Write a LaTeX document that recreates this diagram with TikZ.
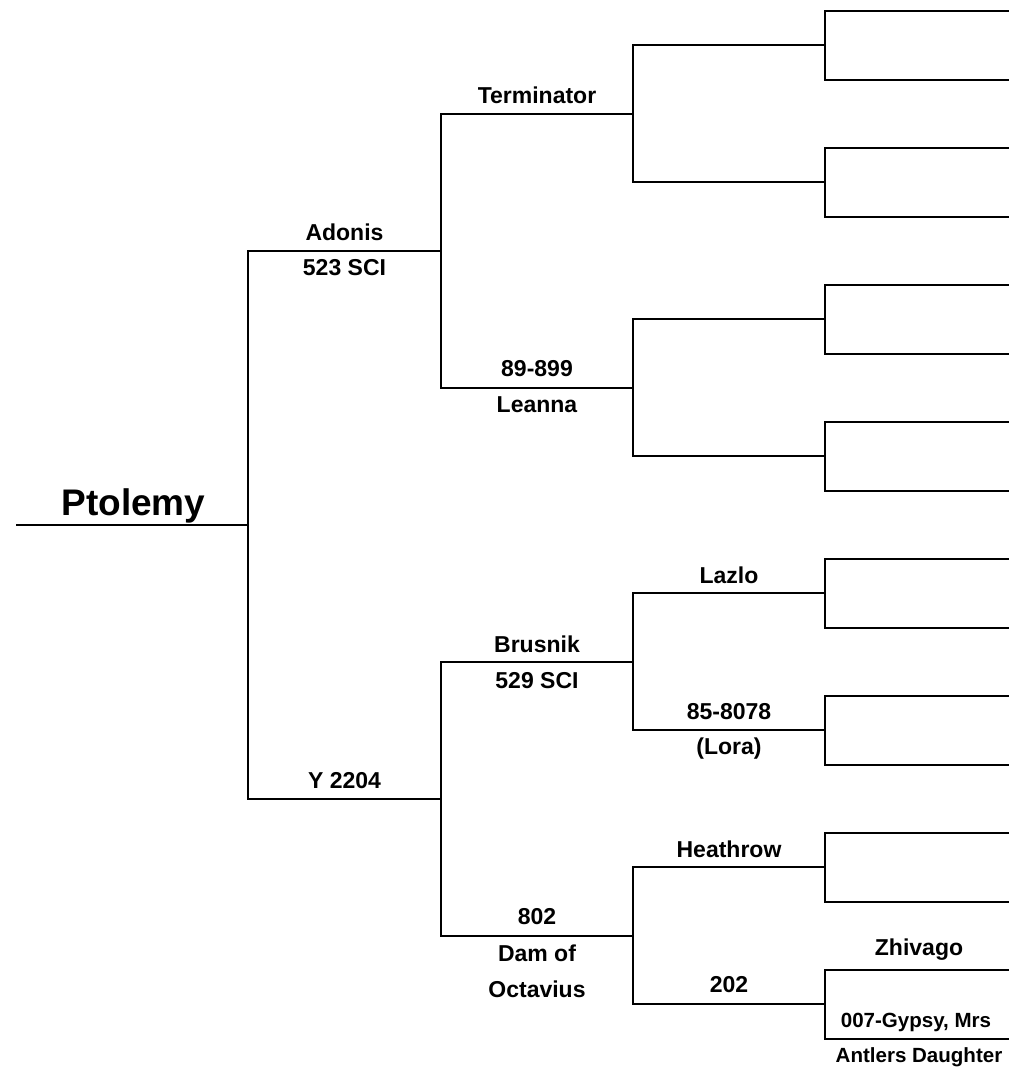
\documentclass[tikz,border=0pt]{standalone}
\usepackage{fontspec}
\setmainfont{Liberation Sans}
\begin{document}
\begin{tikzpicture}[x=0.75pt,y=-0.75pt,
  br/.style={line width=1.5pt, line cap=rect, line join=miter},
  lbl/.style={font=\bfseries\fontsize{17.25}{20}\selectfont, anchor=base, inner sep=0pt},
  sml/.style={font=\bfseries\fontsize{15.4}{18}\selectfont, anchor=base, inner sep=0pt},
  big/.style={font=\bfseries\fontsize{27.75}{32}\selectfont, anchor=base, inner sep=0pt}]
\useasboundingbox (0,0) rectangle (1009,1067);
% leaves
\foreach \i in {0,...,15}{
  \coordinate (leaf\i) at (825,{11+68.5*\i});
  \coordinate (leafE\i) at (1009,{11+68.5*\i});
}
% level-4 junctions
\foreach \k in {0,...,7}{
  \coordinate (m\k) at (825,{45.25+137*\k});
  \coordinate (n\k) at (633,{45.25+137*\k});
}
% level-3 junctions
\foreach \j in {0,...,3}{
  \coordinate (p\j) at (633,{113.75+274*\j});
  \coordinate (q\j) at (441,{113.75+274*\j});
}
% level-2 junctions
\coordinate (s0) at (441,250.75);
\coordinate (t0) at (248,250.75);
\coordinate (s1) at (441,798.75);
\coordinate (t1) at (248,798.75);
\coordinate (u) at (248,524.75);
\coordinate (root) at (17,524.75);

% leaf brackets
\foreach \k in {0,...,7}{
  \pgfmathtruncatemacro{\a}{2*\k}
  \pgfmathtruncatemacro{\b}{2*\k+1}
  \draw[br] (leafE\a) -- (leaf\a) -- (leaf\b) -- (leafE\b);
  \draw[br] (m\k) -- (n\k);
}
\foreach \j in {0,...,3}{
  \pgfmathtruncatemacro{\a}{2*\j}
  \pgfmathtruncatemacro{\b}{2*\j+1}
  \draw[br] (n\a) -- (n\b);
  \draw[br] (p\j) -- (q\j);
}
\draw[br] (q0) -- (q1);
\draw[br] (q2) -- (q3);
\draw[br] (s0) -- (t0);
\draw[br] (s1) -- (t1);
\draw[br] (t0) -- (t1);
\draw[br] (u) -- (root);

% labels
\node[big] (ptolemy) at (133.5,515) {Ptolemy};
\node[lbl] (adonis) at (344.5,240) {Adonis};
\node[lbl] (sci523) at (344.5,275.5) {523 SCI};
\node[lbl] (y2204) at (344.5,788.5) {Y 2204};
\node[lbl] (terminator) at (537,103) {Terminator};
\node[lbl] (n89) at (537,376) {89-899};
\node[lbl] (leanna) at (537,412) {Leanna};
\node[lbl] (brusnik) at (537,652.5) {Brusnik};
\node[lbl] (sci529) at (537,688) {529 SCI};
\node[lbl] (n802) at (537,924.5) {802};
\node[lbl] (damof) at (537,961) {Dam of};
\node[lbl] (octavius) at (537,997) {Octavius};
\node[lbl] (lazlo) at (729,583.5) {Lazlo};
\node[lbl] (n85) at (729,719) {85-8078};
\node[lbl] (lora) at (729,754) {(Lora)};
\node[lbl] (heathrow) at (729,857.5) {Heathrow};
\node[lbl] (n202) at (729,992.5) {202};
\node[lbl] (zhivago) at (919,955) {Zhivago};
\node[sml] (gypsy) at (916,1027) {007-Gypsy, Mrs};
\node[sml] (antlers) at (919,1062.5) {Antlers Daughter};
\end{tikzpicture}
\end{document}
